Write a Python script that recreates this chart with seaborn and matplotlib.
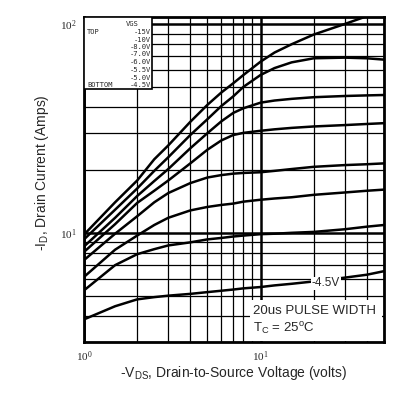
import matplotlib
matplotlib.use("Agg")
import matplotlib.pyplot as plt
import matplotlib.patches as mpatches
from matplotlib.ticker import NullFormatter
import pandas as pd
import seaborn as sns

# ====
# DATA
# ====

vds = [1, 1.5, 2, 2.5, 3, 4, 5, 6, 7, 8, 10, 12, 15, 20, 30, 40, 50]

vgs_labels = ["-15V", "-10V", "-8.0V", "-7.0V", "-6.0V", "-5.5V", "-5.0V", "-4.5V"]

id_15 = [9.8, 14.0, 17.8, 22.5, 26.2, 34.0, 41.0, 47.0, 52.0, 57.0, 66.0, 73.0, 80.0, 89.0, 100.0, 109.0, 117.0]
id_10 = [9.3, 12.9, 16.3, 19.8, 23.0, 29.4, 35.0, 40.5, 45.0, 50.0, 57.0, 61.5, 65.5, 68.5, 69.0, 68.5, 67.5]
id_8 = [8.6, 11.8, 15.0, 17.7, 20.2, 25.4, 30.0, 34.2, 37.5, 39.5, 42.0, 43.0, 43.8, 44.6, 45.2, 45.5, 45.7]
id_7 = [8.1, 11.0, 13.9, 15.9, 17.8, 21.5, 25.0, 27.7, 29.4, 30.1, 30.8, 31.3, 31.8, 32.3, 32.8, 33.2, 33.5]
id_6 = [7.4, 9.9, 12.0, 14.0, 15.5, 17.3, 18.4, 18.9, 19.2, 19.35, 19.5, 19.8, 20.2, 20.7, 21.1, 21.3, 21.5]
id_55 = [6.15, 8.3, 9.7, 10.9, 11.8, 12.8, 13.3, 13.6, 13.8, 14.1, 14.4, 14.6, 14.8, 15.2, 15.6, 15.9, 16.1]
id_5 = [5.3, 7.0, 7.9, 8.35, 8.7, 9.0, 9.3, 9.45, 9.6, 9.7, 9.85, 9.9, 10.0, 10.1, 10.4, 10.7, 10.9]
id_45 = [3.85, 4.45, 4.8, 4.92, 5.0, 5.1, 5.2, 5.28, 5.35, 5.42, 5.5, 5.6, 5.7, 5.85, 6.1, 6.3, 6.55]

series = [id_15, id_10, id_8, id_7, id_6, id_55, id_5, id_45]

rows = []
for lbl, vals in zip(vgs_labels, series):
    for v, i in zip(vds, vals):
        rows.append({"vds": v, "id": i, "vgs": lbl})
df = pd.DataFrame(rows)

# =====
# PLOT
# =====

sns.set_style("white")
plt.rcParams["font.family"] = ["Liberation Sans", "DejaVu Sans"]

fig = plt.figure(figsize=(4.07, 3.94), dpi=100)
ax = fig.add_axes([84 / 407, 52 / 394, 300 / 407, 325 / 394])

sns.lineplot(data=df, x="vds", y="id", hue="vgs",
             palette={lbl: "black" for lbl in vgs_labels},
             errorbar=None, legend=False, lw=1.8, ax=ax, zorder=2)

ax.set_xscale("log")
ax.set_yscale("log")
ax.set_xlim(1, 50)
ax.set_ylim(3.0, 108)

ax.set_axisbelow(True)
ax.grid(which="major", color="black", lw=1.8)
ax.grid(which="minor", color="black", lw=0.9)
ax.xaxis.set_minor_formatter(NullFormatter())
ax.yaxis.set_minor_formatter(NullFormatter())
ax.tick_params(which="both", length=0, labelsize=8, pad=5,
               labelfontfamily="Liberation Serif")
for sp in ax.spines.values():
    sp.set_linewidth(2)
    sp.set_color("black")

ax.set_xlabel(r"-V$_{\mathdefault{DS}}$, Drain-to-Source Voltage (volts)", fontsize=10)
ax.set_ylabel(r"-I$_{\mathdefault{D}}$, Drain Current (Amps)", fontsize=10)
ax.xaxis.set_label_coords(0.5, -0.068)
ax.yaxis.set_label_coords(-0.11, 0.52)

# VGS legend box, top left
box = mpatches.Rectangle((0, 0.778), 0.227, 0.222, transform=ax.transAxes,
                         facecolor="white", edgecolor="black", lw=1.2, zorder=3)
ax.add_patch(box)
mono = dict(family="DejaVu Sans Mono", fontsize=5.1, zorder=4,
            transform=ax.transAxes, va="center")
ax.text(0.14, (342 - 24.5) / 325, "VGS", ha="left", **mono)
ax.text(0.01, (342 - 32) / 325, "TOP", ha="left", **mono)
ax.text(0.01, (342 - 85) / 325, "BOTTOM", ha="left", **mono)
line_y = [32, 39.5, 47, 54.5, 62, 69.5, 77.5, 85]
for lbl, py in zip(vgs_labels, line_y):
    ax.text(0.222, (342 - py) / 325, lbl, ha="right", **mono)

# curve label and test conditions
ax.text(0.76, 0.18, "-4.5V", fontsize=8.5, ha="left", va="center",
        transform=ax.transAxes, zorder=4,
        bbox=dict(facecolor="white", edgecolor="none", pad=0.5))
cond = mpatches.Rectangle((0.553, 0.004), 0.44, 0.125, transform=ax.transAxes,
                          facecolor="white", edgecolor="none", zorder=3)
ax.add_patch(cond)
ax.text(0.563, 0.095, "20us PULSE WIDTH", fontsize=9.5, ha="left", va="center",
        transform=ax.transAxes, zorder=4)
ax.text(0.563, 0.04, r"T$_{\mathdefault{C}}$ = 25$^{\mathdefault{o}}$C", fontsize=9.5,
        ha="left", va="center", transform=ax.transAxes, zorder=4)

fig.savefig("out.png", dpi=100)
